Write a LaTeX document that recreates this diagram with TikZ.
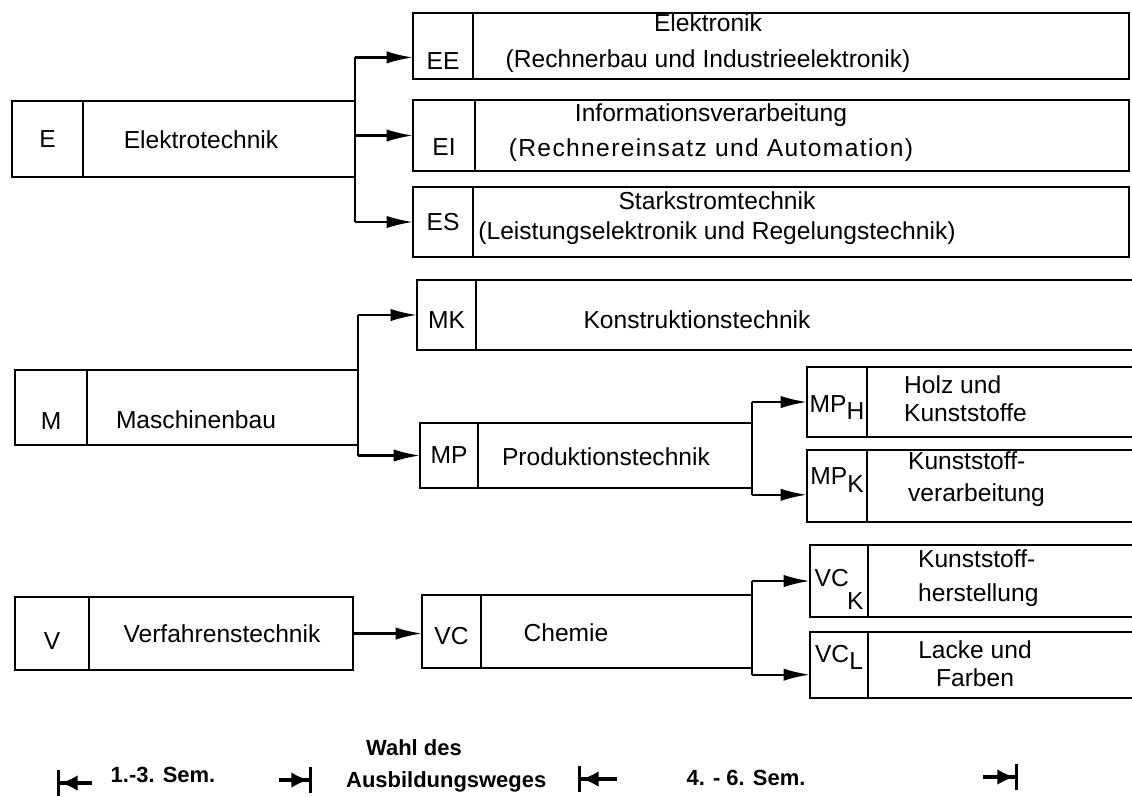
\documentclass[tikz,border=0pt]{standalone}
\usepackage{fontspec}
\setmainfont{Liberation Sans}
\usetikzlibrary{arrows.meta}

\begin{document}
\begin{tikzpicture}[
    x=0.02cm, y=-0.02cm,
    every node/.style={font=\fontsize{14}{19}\selectfont},
    line width=1.3pt,
    sz/.style 2 args={minimum width=#1*0.02cm, minimum height=#2*0.02cm},
    code/.style={draw, anchor=north west, inner sep=0pt, outer sep=0pt},
    body/.style={draw, anchor=north west, inner sep=0pt, outer sep=0pt},
    low/.style 2 args={text height=#1, text depth=#2},
    txt/.style={align=center, inner sep=0pt},
    ltxt/.style={align=left, anchor=west, inner sep=0pt},
    arr/.style={-{Latex[length=15pt, width=7pt]}},
    leg/.style={font=\fontsize{12.5}{15}\selectfont\bfseries, inner sep=0pt},
    dim/.style={-{Latex[length=10pt, width=9pt] Bar[width=15pt]}, line width=1.8pt},
]
\useasboundingbox (0,0) rectangle (1132,796);
\clip (0,0) rectangle (1132,796);

% Elektrotechnik
\node[code, sz={71}{76}] (E) at (12,101) {E};
\node[body, sz={272}{76}] (Eb) at (E.north east) {};
\node[txt] (Et) at (201,140) {Elektrotechnik};

\node[code, sz={60}{66}, low={26.4pt}{0pt}] (EE) at (413,13) {EE};
\node[body, sz={656}{66}] (EEb) at (EE.north east) {};
\node[txt] (EEt) at (708,43) {Elektronik\\[1.5pt](Rechnerbau und Industrieelektronik)};

\node[code, sz={62}{71}, low={23pt}{0pt}] (EI) at (413,100) {EI};
\node[body, sz={654}{71}] (EIb) at (EI.north east) {};
\node[txt] (EIt) at (711,133) {Informationsverarbeitung\\[1pt]
    {\addfontfeatures{LetterSpace=5.5}(Rechnereinsatz und Automation)}};

\node[code, sz={60}{70}] (ES) at (413,187) {ES};
\node[body, sz={656}{70}] (ESb) at (ES.north east) {};
\node[txt] (ESt) at (717,218) {Starkstromtechnik\\[-2pt](Leistungselektronik und Regelungstechnik)};

\coordinate (EEin) at ([yshift=-6.5pt]EE.west);
\draw (Eb.east |- EEin) -- (Eb.east |- ES.west);
\draw[arr] (Eb.east |- EEin) -- (EEin);
\foreach \n in {EI, ES}
    \draw[arr] (Eb.east |- \n.west) -- (\n.west);

% Maschinenbau
\node[code, sz={72}{75}, low={25pt}{0pt}] (M) at (15,370) {M};
\node[body, sz={271}{75}] (Mb) at (M.north east) {};
\node[txt] (Mt) at (196,420) {Maschinenbau};

\node[code, sz={59}{70}, low={15.5pt}{0pt}] (MK) at (417,280) {MK};
\node[body, sz={730}{70}] (MKb) at (MK.north east) {};
\node[txt] (MKt) at (697,320) {Konstruktionstechnik};

\node[code, sz={58}{65}] (MP) at (420,423) {MP};
\node[body, sz={274}{65}] (MPb) at (MP.north east) {};
\node[txt] (MPt) at (606,457) {Produktionstechnik};

\draw (Mb.east |- MK.west) -- (Mb.east |- MP.west);
\foreach \n in {MK, MP}
    \draw[arr] (Mb.east |- \n.west) -- (\n.west);

\node[code, sz={60}{70}, low={15.6pt}{3.6pt}] (MPH) at (807,367) {MP\raisebox{-0.5ex}{H}};
\node[body, sz={300}{70}] (MPHb) at (MPH.north east) {};
\node[ltxt] (MPHt) at (903,399) {Holz und\\[-3pt]Kunststoffe};

\node[code, sz={60}{72}, low={10pt}{11.2pt}] (MPK) at (807,450) {MP\raisebox{-0.6ex}{K}};
\node[body, sz={300}{72}] (MPKb) at (MPK.north east) {};
\node[ltxt] (MPKt) at (907,479) {Kunststoff-\\[-1pt]verarbeitung};

\coordinate (MPKin) at ([yshift=-5pt]MPK.west);
\draw (MPb.east |- MPH.west) -- (MPb.east |- MPKin);
\draw[arr] (MPb.east |- MPH.west) -- (MPH.west);
\draw[arr] (MPb.east |- MPKin) -- (MPKin);

% Verfahrenstechnik
\node[code, sz={74}{73}, low={18pt}{0pt}] (V) at (15,597) {V};
\node[body, sz={264}{73}] (Vb) at (V.north east) {};
\node[txt] (Vt) at (222,634) {Verfahrenstechnik};

\node[code, sz={59}{73}, low={14.5pt}{0pt}] (VC) at (422,595) {VC};
\node[body, sz={271}{73}] (VCb) at (VC.north east) {};
\node[txt] (VCt) at (566,633) {Chemie};

\draw[arr] (Vb.east) -- (VC.west |- Vb.east);

\node[code, sz={58}{72}, low={19.4pt}{12.6pt}] (VCK) at (810,545) {VC\kern-1pt\raisebox{-0.9em}{K}};
\node[body, sz={300}{72}] (VCKb) at (VCK.north east) {};
\node[ltxt] (VCKt) at (917,578) {Kunststoff-\\herstellung};

\node[code, sz={58}{66}, low={10pt}{13.4pt}] (VCL) at (810,632) {VC\raisebox{-0.6ex}{L}};
\node[body, sz={300}{66}] (VCLb) at (VCL.north east) {};
\node[txt] (VCLt) at (975,664) {Lacke und\\[-3pt]Farben};

\coordinate (VCLin) at ([yshift=-5.5pt]VCL.west);
\draw (VCb.east |- VCK.west) -- (VCb.east |- VCLin);
\draw[arr] (VCb.east |- VCK.west) -- (VCK.west);
\draw[arr] (VCb.east |- VCLin) -- (VCLin);

% semester scale
\node[leg] (s13) at (163,775) {1.-3. Sem.};
\node[leg, anchor=west] (wahl) at (365,748) {Wahl des};
\node[leg, anchor=west] (ausb) at (345,782) {Ausbildungsweges};
\node[leg] (s46) at (746,778) {4. - 6. Sem.};

\coordinate (m1) at (57,783);  \coordinate (m1s) at (92,783);
\coordinate (m2) at (312,780); \coordinate (m2s) at (279,780);
\coordinate (m3) at (578,779); \coordinate (m3s) at (617,779);
\coordinate (m4) at (1018,777); \coordinate (m4s) at (983,777);
\foreach \m in {m1, m2, m3, m4}
    \draw[dim] (\m s) -- (\m);
\end{tikzpicture}
\end{document}
